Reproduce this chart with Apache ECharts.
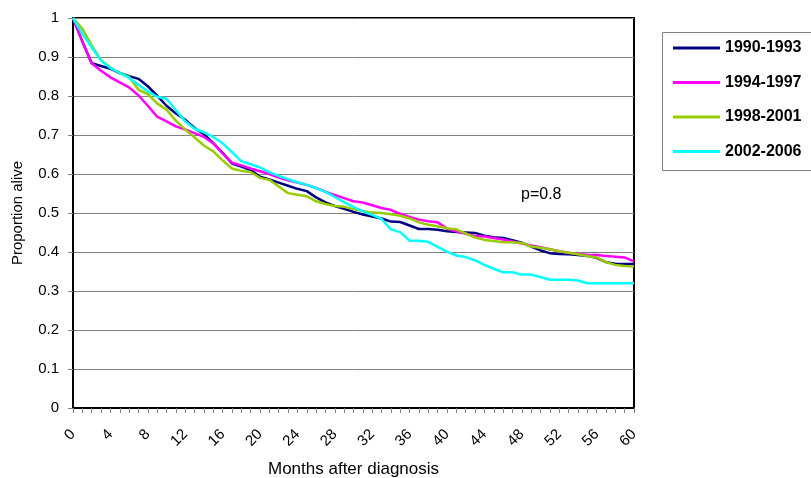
<!DOCTYPE html>
<html>
<head>
<meta charset="utf-8">
<script src="https://cdn.jsdelivr.net/npm/echarts@6/dist/echarts.min.js"></script>
<style>
html,body{margin:0;padding:0;background:#fff;}
#chart{width:811px;height:478px;}
</style>
</head>
<body>
<div id="chart"></div>
<script>
var months = [0,1,2,3,4,5,6,7,8,9,10,11,12,13,14,15,16,17,18,19,20,21,22,23,24,25,26,27,28,29,30,31,32,33,34,35,36,37,38,39,40,41,42,43,44,45,46,47,48,49,50,51,52,53,54,55,56,57,58,59,60];
var seriesNames = ['1990-1993','1994-1997','1998-2001','2002-2006'];
var s1990 = [1.0,0.94,0.884,0.877,0.870,0.859,0.851,0.844,0.825,0.801,0.775,0.755,0.739,0.718,0.702,0.679,0.654,0.627,0.619,0.610,0.593,0.586,0.578,0.570,0.562,0.556,0.540,0.527,0.518,0.511,0.503,0.496,0.491,0.486,0.478,0.477,0.468,0.459,0.459,0.457,0.453,0.451,0.450,0.449,0.442,0.438,0.436,0.430,0.424,0.414,0.404,0.397,0.395,0.394,0.392,0.390,0.385,0.374,0.370,0.369,0.369];
var s1994 = [1.0,0.94,0.884,0.865,0.848,0.835,0.822,0.802,0.775,0.747,0.735,0.722,0.714,0.705,0.695,0.679,0.653,0.629,0.622,0.614,0.607,0.600,0.591,0.584,0.578,0.572,0.564,0.555,0.546,0.538,0.530,0.527,0.520,0.513,0.508,0.498,0.490,0.483,0.479,0.476,0.460,0.453,0.447,0.441,0.440,0.436,0.432,0.427,0.422,0.417,0.412,0.407,0.402,0.398,0.395,0.393,0.392,0.390,0.388,0.386,0.376];
var s1998 = [1.0,0.973,0.930,0.892,0.873,0.859,0.849,0.816,0.805,0.781,0.765,0.737,0.714,0.694,0.673,0.658,0.635,0.614,0.608,0.605,0.590,0.585,0.568,0.551,0.547,0.543,0.530,0.523,0.518,0.516,0.510,0.505,0.501,0.500,0.497,0.493,0.486,0.476,0.470,0.466,0.461,0.458,0.448,0.437,0.431,0.428,0.425,0.425,0.423,0.414,0.411,0.407,0.402,0.398,0.394,0.390,0.386,0.374,0.367,0.364,0.363];
var s2002 = [1.0,0.96,0.925,0.891,0.872,0.859,0.847,0.829,0.812,0.798,0.793,0.764,0.735,0.716,0.707,0.695,0.679,0.656,0.633,0.625,0.617,0.605,0.595,0.587,0.579,0.572,0.564,0.554,0.541,0.528,0.516,0.504,0.495,0.485,0.458,0.451,0.429,0.429,0.426,0.413,0.401,0.391,0.387,0.379,0.367,0.357,0.348,0.348,0.342,0.342,0.336,0.329,0.329,0.329,0.327,0.320,0.320,0.320,0.320,0.320,0.320];
var colors = ['#000080','#FF00FF','#99CC00','#00FFFF'];
var pText = 'p=0.8';
var xName = 'Months after diagnosis';
var yName = 'Proportion alive';

var FONT = '"Liberation Sans", Arial, sans-serif';
var chart = echarts.init(document.getElementById('chart'), null, {renderer:'canvas'});
var allData = [s1990, s1994, s1998, s2002];
var series = seriesNames.map(function(n, i){
  return {
    name: n, type: 'line', data: allData[i], showSymbol: false, symbol: 'none',
    smooth: false, lineStyle: {width: 2.5, color: colors[i]}, itemStyle: {color: colors[i]},
    animation: false
  };
});
chart.setOption({
  animation: false,
  backgroundColor: '#fff',
  textStyle: {fontFamily: FONT},
  grid: {left: 73, top: 18, width: 561, height: 390, outerBoundsMode: 'none', containLabel: false, show: true, borderColor: '#000', borderWidth: 2, backgroundColor: 'transparent'},
  xAxis: {
    type: 'category', data: months, boundaryGap: false,
    name: xName, nameLocation: 'middle', nameGap: 53,
    nameTextStyle: {fontFamily: FONT, fontSize: 17, color: '#000'},
    axisLine: {lineStyle: {color: '#000', width: 2}},
    axisTick: {show: true, interval: 0, length: 5, lineStyle: {color: '#808080', width: 1}},
    axisLabel: {interval: 3, rotate: 45, margin: 24, fontFamily: FONT, fontSize: 15, color: '#000'},
    splitLine: {show: false}
  },
  yAxis: {
    type: 'value', min: 0, max: 1, interval: 0.1,
    name: yName, nameLocation: 'middle', nameGap: 48,
    nameTextStyle: {fontFamily: FONT, fontSize: 15, color: '#000'},
    axisLine: {show: true, lineStyle: {color: '#000', width: 2}},
    axisTick: {show: true, length: 5, lineStyle: {color: '#808080', width: 1}},
    axisLabel: {margin: 14, fontFamily: FONT, fontSize: 15, color: '#000'},
    splitLine: {show: true, lineStyle: {color: '#808080', width: 1}}
  },
  legend: {
    orient: 'vertical', left: 673, top: 39, itemWidth: 47, itemHeight: 3, itemGap: 16.5,
    icon: 'rect', padding: 0,
    textStyle: {fontFamily: FONT, fontSize: 16, fontWeight: 'bold', color: '#000', lineHeight: 18},
    data: seriesNames
  },
  graphic: [
    {type: 'rect', left: 660, top: 30, shape: {width: 200, height: 138}, style: {fill: 'none', stroke: '#808080', lineWidth: 1}, silent: true, z: -1},
    {type: 'text', left: 521, top: 187, style: {text: pText, font: '16px ' + FONT, fill: '#000'}}
  ],
  series: series
});
</script>
</body>
</html>
